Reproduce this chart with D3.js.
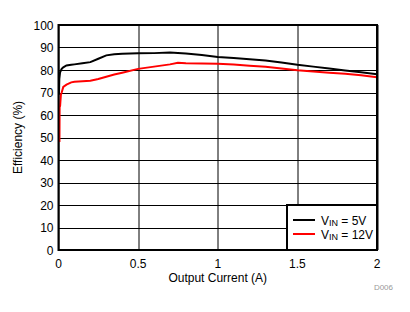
<!DOCTYPE html>
<html>
<head>
<meta charset="utf-8">
<script src="https://cdn.jsdelivr.net/npm/d3@7"></script>
<style>
    body { margin: 0; background: #fff; }
    text { font-family: Arial, "Liberation Sans", sans-serif; }
</style>
</head>
<body>
<div id="chart"></div>
<script>
// Efficiency vs output current
const current5V = [0.003, 0.005, 0.01, 0.02, 0.03, 0.05, 0.08, 0.1, 0.15, 0.2, 0.25, 0.3, 0.35, 0.4, 0.5, 0.6, 0.7, 0.8, 0.9, 1.0, 1.1, 1.2, 1.3, 1.4, 1.5, 1.6, 1.7, 1.8, 1.9, 2.0];
const eff5V = [69, 76, 79, 80.5, 81.2, 82, 82.3, 82.5, 83, 83.5, 85, 86.5, 87, 87.2, 87.4, 87.5, 87.8, 87.3, 86.7, 85.8, 85.3, 84.8, 84.2, 83.3, 82.3, 81.5, 80.7, 79.8, 79, 78.1];

const current12V = [0.006, 0.007, 0.01, 0.015, 0.02, 0.03, 0.05, 0.08, 0.1, 0.15, 0.2, 0.25, 0.3, 0.35, 0.4, 0.5, 0.6, 0.7, 0.75, 0.8, 0.9, 1.0, 1.1, 1.2, 1.3, 1.4, 1.5, 1.6, 1.7, 1.8, 1.9, 2.0];
const eff12V = [48, 63.5, 64, 69, 70, 72.5, 73.5, 74.5, 74.8, 75, 75.2, 76, 77, 78, 78.8, 80.5, 81.5, 82.5, 83.2, 83, 82.9, 82.8, 82.4, 81.9, 81.4, 80.7, 79.9, 79.3, 78.8, 78.3, 77.7, 76.8];

const xTicks = [0, 0.5, 1, 1.5, 2];
const yTicks = [0, 10, 20, 30, 40, 50, 60, 70, 80, 90, 100];

const seriesNames = ["5V", "12V"];
const seriesColors = ["#000000", "#ff0000"];

const W = 410, H = 312;
const margin = { top: 25, right: 33, bottom: 62, left: 58.5 };
const width = W - margin.left - margin.right;
const height = H - margin.top - margin.bottom;

const svg = d3.select("#chart").append("svg")
    .attr("width", W)
    .attr("height", H);

const g = svg.append("g")
    .attr("transform", `translate(${margin.left},${margin.top})`);

const x = d3.scaleLinear().domain([0, 2]).range([0, width]);
const y = d3.scaleLinear().domain([0, 100]).range([height, 0]);

// grid
g.selectAll(".hgrid").data(yTicks).enter().append("line")
    .attr("x1", 0).attr("x2", width)
    .attr("y1", d => Math.round(y(d)) + 0.5).attr("y2", d => Math.round(y(d)) + 0.5)
    .attr("stroke", "#000").attr("stroke-width", 1);

g.selectAll(".vgrid").data(xTicks).enter().append("line")
    .attr("y1", 0).attr("y2", height)
    .attr("x1", d => Math.round(x(d)) + 0.5).attr("x2", d => Math.round(x(d)) + 0.5)
    .attr("stroke", "#000").attr("stroke-width", 1);

// tick labels
g.selectAll(".ylab").data(yTicks).enter().append("text")
    .attr("x", -5)
    .attr("y", d => y(d) + 4.5)
    .attr("text-anchor", "end")
    .attr("font-size", 12)
    .text(d => d);

g.selectAll(".xlab").data(xTicks).enter().append("text")
    .attr("x", d => x(d))
    .attr("y", height + 18)
    .attr("text-anchor", "middle")
    .attr("font-size", 12)
    .text(d => d);

// axis titles
svg.append("text")
    .attr("transform", `translate(22,${margin.top + height / 2}) rotate(-90)`)
    .attr("text-anchor", "middle")
    .attr("font-size", 12)
    .text("Efficiency (%)");

svg.append("text")
    .attr("x", margin.left + width / 2)
    .attr("y", margin.top + height + 32)
    .attr("text-anchor", "middle")
    .attr("font-size", 12)
    .text("Output Current (A)");

svg.append("text")
    .attr("x", 393)
    .attr("y", 290)
    .attr("text-anchor", "end")
    .attr("font-size", 8)
    .attr("fill", "#999")
    .text("D006");

// curves
const line = d3.line()
    .x(d => x(d[0]))
    .y(d => y(d[1]));

const series = [
    current5V.map((c, i) => [c, eff5V[i]]),
    current12V.map((c, i) => [c, eff12V[i]])
];

g.selectAll(".curve").data(series).enter().append("path")
    .attr("d", line)
    .attr("fill", "none")
    .attr("stroke", (d, i) => seriesColors[i])
    .attr("stroke-width", 2);

// frame
g.append("rect")
    .attr("x", 0).attr("y", 0)
    .attr("width", width).attr("height", height)
    .attr("fill", "none")
    .attr("stroke", "#000")
    .attr("stroke-width", 2);

// legend
const legend = g.append("g")
    .attr("transform", `translate(${width - 90},${height - 45})`);

legend.append("rect")
    .attr("width", 90).attr("height", 45)
    .attr("fill", "#fff")
    .attr("stroke", "#000")
    .attr("stroke-width", 2);

seriesNames.forEach((name, i) => {
    const row = legend.append("g").attr("transform", `translate(0,${15 + i * 14})`);
    row.append("line")
        .attr("x1", 6).attr("x2", 28)
        .attr("y1", 0).attr("y2", 0)
        .attr("stroke", seriesColors[i])
        .attr("stroke-width", 2);
    const t = row.append("text")
        .attr("x", 34)
        .attr("y", 4.5)
        .attr("font-size", 12);
    t.append("tspan").text("V");
    t.append("tspan").attr("font-size", 9).attr("dy", 1).text("IN");
    t.append("tspan").attr("dy", -1).text(" = " + name);
});
</script>
</body>
</html>
